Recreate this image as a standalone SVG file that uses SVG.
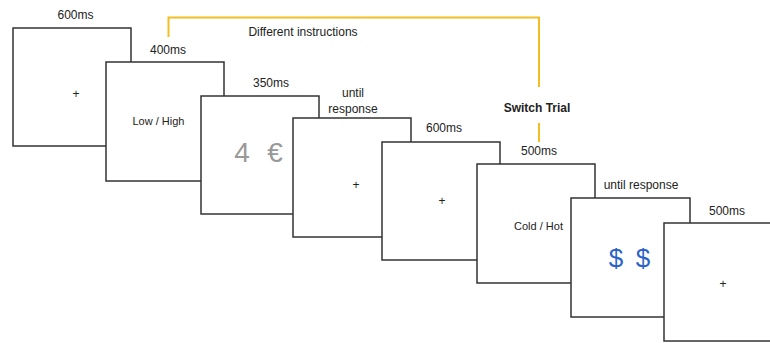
<svg xmlns="http://www.w3.org/2000/svg" width="770" height="343" viewBox="0 0 770 343">
<style>
.box{fill:#fff;stroke:#333;stroke-width:1.5}
text{font-family:"Liberation Sans",Arial,sans-serif;fill:#222}
.lbl{font-size:12px;text-anchor:middle}
.plus{font-size:12px;text-anchor:middle}
.br{fill:none;stroke:#F2BE22;stroke-width:2}
</style>
<rect width="770" height="343" fill="#fff"/>
<g id="connectors">
<path class="br" d="M168.5,37 V17.5 H539 V87"/>
<path class="br" d="M539,123 V142"/>
</g>
<g id="screen1"><rect class="box" x="13" y="28" width="118" height="118"/><text class="plus" x="76" y="98">+</text></g>
<g id="screen2"><rect class="box" x="106" y="62" width="118" height="119"/><text x="158.5" y="125" font-size="11" text-anchor="middle">Low / High</text></g>
<g id="screen3"><rect class="box" x="201" y="96" width="118" height="118"/><text x="242" y="162" font-size="28" text-anchor="middle" style="fill:#999">4</text><text x="275" y="162" font-size="28" text-anchor="middle" style="fill:#999">€</text></g>
<g id="screen4"><rect class="box" x="293" y="118" width="118" height="119"/><text class="plus" x="356" y="189">+</text></g>
<g id="screen5"><rect class="box" x="382" y="142" width="118" height="118"/><text class="plus" x="442" y="205">+</text></g>
<g id="screen6"><rect class="box" x="477" y="164" width="118" height="119"/><text x="538.5" y="230" font-size="11" text-anchor="middle">Cold / Hot</text></g>
<g id="screen7"><rect class="box" x="571" y="198" width="119" height="119"/><text x="616" y="267" font-size="26" text-anchor="middle" style="fill:#2A62C9">$</text><text x="643" y="267" font-size="26" text-anchor="middle" style="fill:#2A62C9">$</text></g>
<g id="screen8"><rect class="box" x="664" y="223" width="118" height="118"/><text class="plus" x="723" y="288">+</text></g>
<g id="labels">
<text class="lbl" x="75.5" y="19">600ms</text>
<text class="lbl" x="168" y="54">400ms</text>
<text class="lbl" x="303" y="36">Different instructions</text>
<text class="lbl" x="271" y="87">350ms</text>
<text class="lbl" x="353" y="97">until</text>
<text class="lbl" x="353" y="113">response</text>
<text class="lbl" x="444" y="132">600ms</text>
<text class="lbl" x="537" y="112" font-size="11" font-weight="bold">Switch Trial</text>
<text class="lbl" x="539" y="155">500ms</text>
<text class="lbl" x="641" y="189">until response</text>
<text class="lbl" x="727" y="215">500ms</text>
</g>
</svg>
